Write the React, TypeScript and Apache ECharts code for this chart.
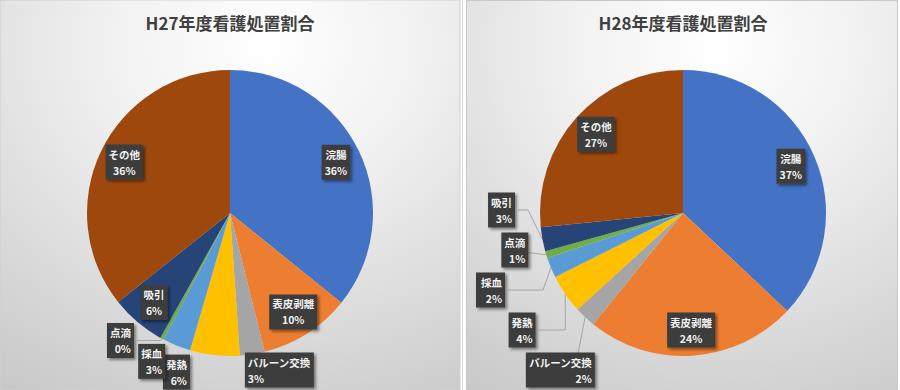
import React, { useEffect, useRef } from 'react';
import * as echarts from 'echarts';

// ---- data ----
const categories = ['浣腸', '表皮剥離', 'バルーン交換', '発熱', '採血', '点滴', '吸引', 'その他'];
const h27Values = [35.8, 10.3, 2.8, 5.6, 3.2, 0.4, 6.2, 35.7];
const h28Values = [37.0, 23.8, 2.4, 4.4, 2.3, 0.8, 2.7, 26.6];
const titles = ['H27年度看護処置割合', 'H28年度看護処置割合'];

// ---- style ----
const colors = ['#4472C4', '#ED7D31', '#A5A5A5', '#FFC000', '#5B9BD5', '#70AD47', '#264478', '#9E480E'];
const INSIDE_MIN_PCT = 6;
const FONT = '"Noto Sans CJK JP", "Noto Sans", sans-serif';
const R = 143;

const labelBox = {
  color: '#f2f2f2',
  fontWeight: 'bold' as const,
  fontSize: 10.5,
  lineHeight: 16,
  fontFamily: FONT,
  backgroundColor: '#3e3e3e',
  padding: [2, 3, 1, 3],
  shadowColor: 'rgba(0,0,0,0.45)',
  shadowBlur: 3,
  shadowOffsetX: 2,
  shadowOffsetY: 2,
  align: 'center' as const,
};

const fmt = (p: any) => `${p.name}\n${Math.round(p.percent)}%`;

type LineOpt = { length?: number; length2?: number; distance?: number };

function buildPies(
  values: number[],
  box: { left: number; width: number },
  center: [number, number],
  lineNames: string[] | 'all',
  avoid: boolean,
  len: number,
  len2: number,
  margin: number,
  itemLine: Record<string, LineOpt>
) {
  const total = values.reduce((a, b) => a + b, 0);
  const mainData = categories.map((name, i) => {
    const pct = (values[i] / total) * 100;
    const outside = pct < INSIDE_MIN_PCT;
    const hasLine = outside && (lineNames === 'all' || lineNames.includes(name));
    const o = itemLine[name] || {};
    const line: any = { show: hasLine };
    if (o.length !== undefined) line.length = o.length;
    if (o.length2 !== undefined) line.length2 = o.length2;
    const label: any = { show: outside };
    if (o.distance !== undefined) label.distanceToLabelLine = o.distance;
    return { name, value: values[i], label, labelLine: line };
  });
  const overlayData = categories.map((name, i) => {
    const pct = (values[i] / total) * 100;
    return { name, value: values[i], label: { show: pct >= INSIDE_MIN_PCT } };
  });
  return [
    {
      type: 'pie',
      left: box.left,
      width: box.width,
      top: 0,
      height: 390,
      center,
      radius: [0, R],
      startAngle: 90,
      clockwise: true,
      avoidLabelOverlap: avoid,
      minShowLabelAngle: 0,
      labelLayout: { hideOverlap: false },
      color: colors,
      silent: true,
      data: mainData,
      label: {
        position: 'outside',
        formatter: fmt,
        alignTo: 'none',
        distanceToLabelLine: 3,
        minMargin: margin,
        ...labelBox,
      },
      labelLine: {
        length: len,
        length2: len2,
        smooth: false,
        lineStyle: { color: '#a6a6a6', width: 1 },
      },
      emphasis: { disabled: true },
      z: 2,
    },
    {
      type: 'pie',
      left: box.left,
      width: box.width,
      top: 0,
      height: 390,
      center,
      radius: [0, R * 1.6],
      startAngle: 90,
      clockwise: true,
      silent: true,
      itemStyle: { color: 'rgba(0,0,0,0)' },
      data: overlayData,
      label: {
        position: 'inside',
        formatter: fmt,
        ...labelBox,
      },
      labelLine: { show: false },
      emphasis: { disabled: true },
      z: 3,
    },
  ];
}

function bgFill() {
  return new echarts.graphic.RadialGradient(0.58, 0.12, 1.15, [
    { offset: 0, color: '#ffffff' },
    { offset: 0.3, color: '#f1f1f1' },
    { offset: 1, color: '#c2c2c2' },
  ]);
}

export default function App() {
  const ref = useRef<HTMLDivElement>(null);
  useEffect(() => {
    if (!ref.current) return;
    const chart = echarts.init(ref.current, undefined, { renderer: 'svg' });
    chart.setOption({
      animation: false,
      backgroundColor: '#ffffff',
      graphic: [
        {
          type: 'rect',
          z: -10,
          shape: { x: 0, y: 0, width: 460, height: 390 },
          style: { fill: bgFill(), stroke: '#d0d0d0', lineWidth: 1 },
        },
        {
          type: 'line',
          z: -10,
          shape: { x1: 462.5, y1: 0, x2: 462.5, y2: 390 },
          style: { stroke: '#d6d6d6', lineWidth: 1 },
        },
        {
          type: 'rect',
          z: -10,
          shape: { x: 466.5, y: 0.5, width: 431, height: 395 },
          style: { fill: bgFill(), stroke: '#c8c8c8', lineWidth: 1 },
        },
        {
          type: 'text',
          z: 10,
          x: 230,
          y: 22,
          style: {
            text: titles[0],
            fill: '#404040',
            font: `bold 17px ${FONT}`,
            textAlign: 'center',
            textVerticalAlign: 'middle',
          },
        },
        {
          type: 'text',
          z: 10,
          x: 683,
          y: 22,
          style: {
            text: titles[1],
            fill: '#404040',
            font: `bold 17px ${FONT}`,
            textAlign: 'center',
            textVerticalAlign: 'middle',
          },
        },
      ],
      series: [
        ...buildPies(h27Values, { left: 0, width: 460 }, [230, 213], ['点滴'], false, 16, 10, 0, {
          'バルーン交換': { length: 16, length2: 0, distance: -10 },
          '発熱': { length: 17, length2: 20 },
          '採血': { length: 17, length2: 2 },
          '点滴': { length: 2, length2: 24 },
        }),
        ...buildPies(h28Values, { left: 466, width: 434 }, [217, 213], 'all', true, 15, 10, 5, {
          'バルーン交換': { distance: -30 },
          '点滴': { length2: 0, distance: -26 },
          '採血': { length2: 35 },
          '発熱': { length2: 27 },
        }),
      ],
    });
    return () => chart.dispose();
  }, []);
  return (
    <div
      ref={ref}
      style={{ position: 'absolute', left: 0, top: 0, width: 900, height: 390 }}
    />
  );
}
